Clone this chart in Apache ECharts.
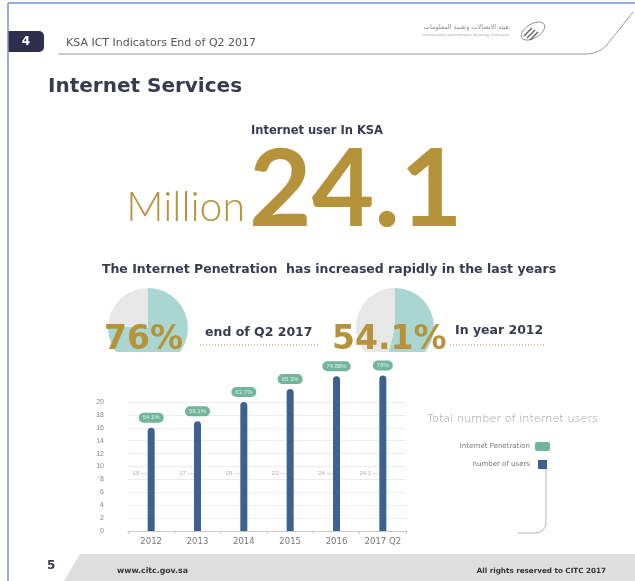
<!DOCTYPE html>
<html>
<head>
<meta charset="utf-8">
<script src="https://cdn.jsdelivr.net/npm/echarts@6/dist/echarts.min.js"></script>
<style>
  html, body { margin: 0; padding: 0; background: #ffffff; }
  #chart { width: 635px; height: 581px; }
</style>
</head>
<body>
<div id="chart"></div>
<script>
// Internet users per year (millions) and penetration rates
const years = ['2012', '2013', '2014', '2015', '2016', '2017 Q2'];
const usersMillions = [16, 17, 20, 22, 24, 24.1];
const penetrationLabels = ['54.1%', '59.1%', '63.7%', '65.3%', '74.88%', '76%'];
const yAxisMin = 0;
const yAxisMax = 20;
const yAxisStep = 2;

// Headline figures
const currentUsersMillions = 24.1;
const penetrationNow = 76;
const penetration2012 = 54.1;

const GOLD = '#b6923a';
const DARK = '#383a4e';
const TEAL = '#a9d6d1';
const PIE_GREY = '#e7e7e7';
const BAR_BLUE = '#3f6192';
const PILL_GREEN = '#4ea383';
const HEAD = '"DejaVu Sans", sans-serif';

const chart = echarts.init(document.getElementById('chart'), null, { renderer: 'canvas' });

// outline of the emblem's tilted ring
function ringPoints(cx, cy, rx, ry, angle) {
  const pts = [];
  for (let k = 0; k < 36; k++) {
    const t = (k / 36) * Math.PI * 2;
    const x = rx * Math.cos(t), y = ry * Math.sin(t);
    pts.push([cx + x * Math.cos(angle) - y * Math.sin(angle), cy + x * Math.sin(angle) + y * Math.cos(angle)]);
  }
  return pts;
}

const graphics = [
  // page frame
  { type: 'line', shape: { x1: 8, y1: 3, x2: 635, y2: 3 }, style: { stroke: '#6c93d2', lineWidth: 1.5 }, z: 10 },
  { type: 'line', shape: { x1: 8, y1: 3, x2: 8, y2: 581 }, style: { stroke: '#6c93d2', lineWidth: 1.5 }, z: 10 },

  // header tab with page number
  { type: 'rect', shape: { x: 8, y: 31, width: 36, height: 21, r: [0, 5, 5, 0] }, style: { fill: '#2f2f4d' } },
  { type: 'text', x: 26, y: 41.5, style: { text: '4', fill: '#ffffff', font: `bold 12px ${HEAD}`, align: 'center', verticalAlign: 'middle' } },
  { type: 'text', x: 66, y: 43, style: { text: 'KSA ICT Indicators End of Q2 2017', fill: '#555555', font: `11px ${HEAD}`, verticalAlign: 'middle' } },
  { type: 'line', shape: { x1: 58, y1: 54, x2: 586, y2: 54 }, style: { stroke: '#9a9a9a', lineWidth: 1 } },
  { type: 'bezierCurve', shape: { x1: 586, y1: 54, cpx1: 598, cpy1: 54, x2: 606, y2: 46 }, style: { stroke: '#9a9a9a', lineWidth: 1, fill: null } },
  { type: 'line', shape: { x1: 606, y1: 46, x2: 633, y2: 12 }, style: { stroke: '#9a9a9a', lineWidth: 1 } },

  // organisation name and emblem
  { type: 'text', x: 509, y: 27, style: { text: 'هيئة الاتصالات وتقنية المعلومات', fill: '#8a8a8a', font: '6.5px "DejaVu Sans"', align: 'right', verticalAlign: 'middle' } },
  { type: 'text', x: 509, y: 35, style: { text: 'Communications and Information Technology Commission', fill: '#9a9a9a', font: '3px "DejaVu Sans"', align: 'right', verticalAlign: 'middle' } },
  { type: 'polygon', shape: { points: ringPoints(533, 31, 13, 7, -0.55) }, style: { stroke: '#8a8a8a', lineWidth: 1, fill: null } },
  { type: 'line', shape: { x1: 524, y1: 36, x2: 532, y2: 28 }, style: { stroke: '#666', lineWidth: 1.5 } },
  { type: 'line', shape: { x1: 527, y1: 38, x2: 535, y2: 30 }, style: { stroke: '#666', lineWidth: 1.5 } },
  { type: 'line', shape: { x1: 530, y1: 40, x2: 538, y2: 32 }, style: { stroke: '#666', lineWidth: 1.5 } },

  // section title
  { type: 'text', x: 48, y: 87, style: { text: 'Internet Services', fill: DARK, font: `bold 20px ${HEAD}`, verticalAlign: 'middle' } },

  // headline number
  { type: 'text', x: 317, y: 131, style: { text: 'Internet user In KSA', fill: DARK, font: `bold 11.5px ${HEAD}`, align: 'center', verticalAlign: 'middle' } },
  { type: 'text', x: 245, y: 208, style: { text: 'Million', fill: GOLD, font: '300 41px Lato', align: 'right', verticalAlign: 'middle' } },
  { type: 'text', x: 249, y: 191, style: { text: String(currentUsersMillions), fill: GOLD, font: 'bold 108px Lato', verticalAlign: 'middle' } },

  { type: 'text', x: 329, y: 270, style: { text: 'The Internet Penetration  has increased rapidly in the last years', fill: DARK, font: `bold 12.5px ${HEAD}`, align: 'center', verticalAlign: 'middle' } },

  // pie bottoms tuck behind the figures
  { type: 'rect', shape: { x: 100, y: 352, width: 100, height: 22 }, style: { fill: '#ffffff' }, z: 4 },
  { type: 'rect', shape: { x: 350, y: 352, width: 100, height: 22 }, style: { fill: '#ffffff' }, z: 4 },

  // penetration figures beside the pies
  { type: 'text', x: 104, y: 340, z: 5, style: { text: penetrationNow + '%', fill: GOLD, font: 'bold 33px "DejaVu Sans"', verticalAlign: 'middle' } },
  { type: 'text', x: 205, y: 333, style: { text: 'end of Q2 2017', fill: DARK, font: `bold 12.5px ${HEAD}`, verticalAlign: 'middle' } },
  { type: 'line', shape: { x1: 200, y1: 345, x2: 320, y2: 345 }, style: { stroke: GOLD, lineWidth: 1, lineDash: [1, 2] } },
  { type: 'text', x: 332, y: 340, z: 5, style: { text: penetration2012 + '%', fill: GOLD, font: 'bold 33px "DejaVu Sans"', verticalAlign: 'middle' } },
  { type: 'text', x: 455, y: 331, style: { text: 'In year 2012', fill: DARK, font: `bold 12.5px ${HEAD}`, verticalAlign: 'middle' } },
  { type: 'line', shape: { x1: 450, y1: 345, x2: 546, y2: 345 }, style: { stroke: GOLD, lineWidth: 1, lineDash: [1, 2] } },

  // connector from the legend down to the chart
  { type: 'line', shape: { x1: 546, y1: 467, x2: 546, y2: 522 }, style: { stroke: '#b5b5b5', lineWidth: 1 } },
  { type: 'bezierCurve', shape: { x1: 546, y1: 522, cpx1: 546, cpy1: 533, x2: 534, y2: 533 }, style: { stroke: '#b5b5b5', lineWidth: 1, fill: null } },
  { type: 'line', shape: { x1: 534, y1: 533, x2: 518, y2: 533 }, style: { stroke: '#b5b5b5', lineWidth: 1 } },

  // footer
  { type: 'polygon', shape: { points: [[64, 581], [80, 554], [635, 554], [635, 581]] }, style: { fill: '#dedede' } },
  { type: 'text', x: 47, y: 566, style: { text: '5', fill: DARK, font: `bold 12px ${HEAD}`, verticalAlign: 'middle' } },
  { type: 'text', x: 117, y: 571, style: { text: 'www.citc.gov.sa', fill: '#333', font: `bold 7.8px ${HEAD}`, verticalAlign: 'middle' } },
  { type: 'text', x: 606, y: 571, style: { text: 'All rights reserved to CITC 2017', fill: '#333', font: `bold 7.2px ${HEAD}`, align: 'right', verticalAlign: 'middle' } }
];

const option = {
  backgroundColor: '#ffffff',
  animation: false,
  title: {
    text: 'Total number of internet users',
    left: 422, top: 409,
    textStyle: { fontFamily: 'DejaVu Sans', fontWeight: 200, fontSize: 11.3, color: '#9a9a9a' }
  },
  legend: {
    orient: 'vertical',
    right: 80, top: 437,
    align: 'right',
    itemGap: 9,
    itemWidth: 15, itemHeight: 9,
    textStyle: { fontSize: 7, color: '#777', fontFamily: 'DejaVu Sans' },
    data: [
      { name: 'Internet Penetration', icon: 'roundRect' },
      { name: 'number of users', icon: 'path://M0 0h10v10h-10z' }
    ]
  },
  grid: { left: 128, right: 229, top: 402, bottom: 50 },
  xAxis: {
    type: 'category',
    data: years,
    axisLine: { lineStyle: { color: '#c8c8c8' } },
    axisTick: { show: true, length: 3, lineStyle: { color: '#c8c8c8' } },
    axisLabel: { color: '#777', fontSize: 8.5, margin: 6, interval: 0, fontFamily: 'DejaVu Sans' }
  },
  yAxis: {
    type: 'value',
    min: yAxisMin, max: yAxisMax, interval: yAxisStep,
    axisLine: { show: false },
    axisTick: { show: false },
    axisLabel: { color: '#888', fontSize: 7, margin: 24 },
    splitLine: { lineStyle: { color: '#ececec' } }
  },
  series: [
    {
      name: 'number of users',
      type: 'bar',
      data: usersMillions,
      barWidth: 7,
      clip: false,
      itemStyle: { color: BAR_BLUE, borderRadius: [3.5, 3.5, 0, 0] },
      z: 3
    },
    {
      // penetration badge sitting on top of each bar
      name: 'Internet Penetration',
      type: 'scatter',
      data: usersMillions.map((v, i) => [i, v]),
      symbolSize: 0,
      clip: false,
      itemStyle: { color: PILL_GREEN },
      label: {
        show: true,
        position: 'top',
        distance: 5,
        formatter: p => penetrationLabels[p.dataIndex],
        backgroundColor: PILL_GREEN,
        borderRadius: 6,
        padding: [2, 4],
        color: '#ffffff',
        fontSize: 6
      },
      z: 4
    },
    {
      // user count callouts beside each bar
      name: 'users callout',
      type: 'scatter',
      data: usersMillions.map((v, i) => [i, 9]),
      symbolSize: 0,
      silent: true,
      label: {
        show: true,
        position: 'left',
        distance: 4,
        formatter: p => usersMillions[p.dataIndex] + ' —',
        color: '#999',
        fontSize: 6
      },
      z: 4
    },
    {
      type: 'pie',
      center: [148, 328],
      radius: 40,
      startAngle: 90,
      clockwise: true,
      silent: true,
      label: { show: false },
      labelLine: { show: false },
      data: [
        { value: penetrationNow, itemStyle: { color: TEAL } },
        { value: 100 - penetrationNow, itemStyle: { color: PIE_GREY } }
      ],
      z: 1
    },
    {
      type: 'pie',
      center: [395, 327],
      radius: 39,
      startAngle: 90,
      clockwise: true,
      silent: true,
      label: { show: false },
      labelLine: { show: false },
      data: [
        { value: penetration2012, itemStyle: { color: TEAL } },
        { value: +(100 - penetration2012).toFixed(1), itemStyle: { color: PIE_GREY } }
      ],
      z: 1
    }
  ],
  graphic: graphics
};

chart.setOption(option);
</script>
</body>
</html>
